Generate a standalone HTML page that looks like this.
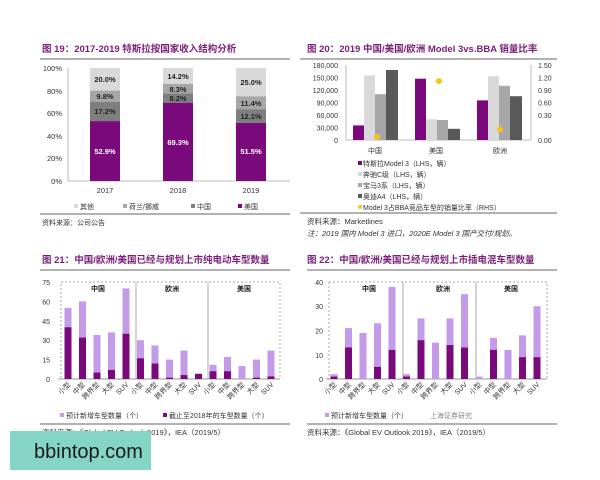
<!DOCTYPE html>
<html><head><meta charset="utf-8"><style>
html,body{margin:0;padding:0;background:#fff;}
svg{display:block;font-family:"Liberation Sans","Noto Sans CJK SC",sans-serif;}
</style></head><body>
<svg width="600" height="480" viewBox="0 0 600 480" xmlns="http://www.w3.org/2000/svg">
<rect width="600" height="480" fill="#fff"/>
<!-- Chart 19 -->
<text x="42" y="52" font-size="9.5" font-weight="bold" fill="#7b1e7a">图 19：2017-2019 特斯拉按国家收入结构分析</text>
<line x1="40" y1="59" x2="290" y2="59" stroke="#666" stroke-width="1"/>
<g font-size="7.5" fill="#333" text-anchor="end">
<text x="62" y="71">100%</text><text x="62" y="94">80%</text><text x="62" y="116">60%</text><text x="62" y="139">40%</text><text x="62" y="161">20%</text><text x="62" y="184">0%</text>
</g>
<line x1="68" y1="68" x2="68" y2="181" stroke="#bbb"/><line x1="68" y1="181" x2="290" y2="181" stroke="#bbb"/>
<!-- 2017 -->
<rect x="90" y="68" width="30" height="22.6" fill="#d9d9d9"/>
<rect x="90" y="90.6" width="30" height="11.1" fill="#a6a6a6"/>
<rect x="90" y="101.7" width="30" height="19.4" fill="#7f7f7f"/>
<rect x="90" y="121.1" width="30" height="59.9" fill="#7a0a7b"/>
<!-- 2018 -->
<rect x="163" y="68" width="30" height="16" fill="#d9d9d9"/>
<rect x="163" y="84" width="30" height="9.4" fill="#a6a6a6"/>
<rect x="163" y="93.4" width="30" height="9.3" fill="#7f7f7f"/>
<rect x="163" y="102.7" width="30" height="78.3" fill="#7a0a7b"/>
<!-- 2019 -->
<rect x="236" y="68" width="30" height="28.3" fill="#d9d9d9"/>
<rect x="236" y="96.3" width="30" height="12.9" fill="#a6a6a6"/>
<rect x="236" y="109.2" width="30" height="13.7" fill="#7f7f7f"/>
<rect x="236" y="122.9" width="30" height="58.1" fill="#7a0a7b"/>
<g font-size="7.5" font-weight="bold" text-anchor="middle" fill="#222">
<text x="105" y="82">20.0%</text><text x="105" y="99">9.8%</text><text x="105" y="114">17.2%</text>
<text x="178" y="79">14.2%</text><text x="178" y="92">8.3%</text><text x="178" y="101">8.2%</text>
<text x="251" y="85">25.0%</text><text x="251" y="106">11.4%</text><text x="251" y="119">12.1%</text>
</g>
<g font-size="7.5" font-weight="bold" text-anchor="middle" fill="#fff">
<text x="105" y="154">52.9%</text><text x="178" y="145">69.3%</text><text x="251" y="154">51.5%</text>
</g>
<g font-size="7.5" text-anchor="middle" fill="#333"><text x="105" y="193">2017</text><text x="178" y="193">2018</text><text x="251" y="193">2019</text></g>
<g font-size="7" fill="#333">
<rect x="74" y="204" width="4" height="4" fill="#d9d9d9"/><text x="80" y="209">其他</text>
<rect x="123" y="204" width="4" height="4" fill="#a6a6a6"/><text x="129" y="209">荷兰/挪威</text>
<rect x="191" y="204" width="4" height="4" fill="#7f7f7f"/><text x="197" y="209">中国</text>
<rect x="238" y="204" width="4" height="4" fill="#7a0a7b"/><text x="244" y="209">美国</text>
</g>
<line x1="40" y1="214" x2="290" y2="214" stroke="#666"/>
<text x="42" y="225" font-size="7" fill="#333">资料来源：公司公告</text>

<!-- Chart 20 -->
<text x="307" y="52" font-size="9.5" font-weight="bold" fill="#7b1e7a">图 20：2019 中国/美国/欧洲 Model 3vs.BBA 销量比率</text>
<line x1="300" y1="59" x2="557" y2="59" stroke="#666"/>
<g font-size="7" fill="#333" text-anchor="end">
<text x="338" y="68">180,000</text><text x="338" y="80.5">150,000</text><text x="338" y="93">120,000</text><text x="338" y="105.5">90,000</text><text x="338" y="118">60,000</text><text x="338" y="130.5">30,000</text><text x="338" y="143">0</text>
</g>
<g font-size="7" fill="#333">
<text x="538" y="68">1.50</text><text x="538" y="80.5">1.20</text><text x="538" y="93">0.90</text><text x="538" y="105.5">0.60</text><text x="538" y="118">0.30</text><text x="538" y="143">0.00</text>
</g>
<line x1="346" y1="65" x2="346" y2="140" stroke="#bbb"/><line x1="531" y1="65" x2="531" y2="140" stroke="#bbb"/><line x1="346" y1="140" x2="531" y2="140" stroke="#bbb"/>
<g>
<rect x="353" y="125.4" width="11" height="14.6" fill="#7a0a7b"/><rect x="364" y="75.4" width="11" height="64.6" fill="#d9d9d9"/><rect x="375" y="94.2" width="11" height="45.8" fill="#a6a6a6"/><rect x="386" y="70" width="12" height="70" fill="#595959"/>
<rect x="415" y="78.7" width="11" height="61.3" fill="#7a0a7b"/><rect x="426" y="119.2" width="11" height="20.8" fill="#d9d9d9"/><rect x="437" y="120" width="11" height="20" fill="#a6a6a6"/><rect x="448" y="128.8" width="12" height="11.2" fill="#595959"/>
<rect x="477" y="100.4" width="11" height="39.6" fill="#7a0a7b"/><rect x="488" y="76.2" width="11" height="63.8" fill="#d9d9d9"/><rect x="499" y="85.8" width="11" height="54.2" fill="#a6a6a6"/><rect x="510" y="96.2" width="12" height="43.8" fill="#595959"/>
</g>
<circle cx="377" cy="137" r="3" fill="#f5c518"/><circle cx="439" cy="81" r="3" fill="#f5c518"/><circle cx="500" cy="129.5" r="3" fill="#f5c518"/>
<g font-size="7" fill="#333" text-anchor="middle"><text x="375" y="153">中国</text><text x="436" y="153">美国</text><text x="500" y="153">欧洲</text></g>
<g font-size="7" fill="#333">
<rect x="358" y="161" width="4" height="4" fill="#7a0a7b"/><text x="363" y="166">特斯拉Model 3（LHS，辆）</text>
<rect x="358" y="172" width="4" height="4" fill="#d9d9d9"/><text x="363" y="177">奔驰C级（LHS，辆）</text>
<rect x="358" y="183" width="4" height="4" fill="#a6a6a6"/><text x="363" y="188">宝马3系（LHS，辆）</text>
<rect x="358" y="194" width="4" height="4" fill="#595959"/><text x="363" y="199">奥迪A4（LHS，辆）</text>
<circle cx="360" cy="207" r="2" fill="#f5c518"/><text x="363" y="210">Model 3占BBA竞品车型的销量比率（RHS）</text>
</g>
<line x1="300" y1="213" x2="557" y2="213" stroke="#666"/>
<text x="307" y="224" font-size="7.5" fill="#333">资料来源：Marketlines</text>
<text x="307" y="236" font-size="7.5" font-style="italic" fill="#333">注：2019 国内 Model 3 进口，2020E Model 3 国产交付/规划。</text>

<!-- Chart 21 -->
<text x="42" y="263" font-size="9.5" font-weight="bold" fill="#7b1e7a">图 21：中国/欧洲/美国已经与规划上市纯电动车型数量</text>
<line x1="40" y1="270" x2="290" y2="270" stroke="#666"/>
<g font-size="7" fill="#333" text-anchor="end">
<text x="50" y="285">75</text><text x="50" y="304.5">60</text><text x="50" y="324">45</text><text x="50" y="343">30</text><text x="50" y="362.5">15</text><text x="50" y="382">0</text>
</g>
<rect x="61" y="282" width="219" height="97" fill="none" stroke="#aaa" stroke-dasharray="2,2"/>
<line x1="136" y1="282" x2="136" y2="379" stroke="#aaa"/><line x1="208" y1="282" x2="208" y2="379" stroke="#aaa"/>
<line x1="58" y1="379" x2="280" y2="379" stroke="#999"/>
<g font-size="7" font-weight="bold" fill="#222" text-anchor="middle"><text x="98" y="291">中国</text><text x="172" y="291">欧洲</text><text x="244" y="291">美国</text></g>
<g id="c21"></g>
<g font-size="7" fill="#333">
<rect x="60" y="413" width="4" height="4" fill="#c39be8"/><text x="66" y="418">预计新增车型数量（个）</text>
<rect x="163" y="413" width="4" height="4" fill="#7a0a7b"/><text x="169" y="418">截止至2018年的车型数量（个）</text>
</g>
<line x1="40" y1="424" x2="290" y2="424" stroke="#666"/>
<text x="42" y="435" font-size="7.5" fill="#333">资料来源：《Global EV Outlook 2019》，IEA（2019/5）</text>

<!-- Chart 22 -->
<text x="307" y="263" font-size="9.5" font-weight="bold" fill="#7b1e7a">图 22：中国/欧洲/美国已经与规划上市插电混车型数量</text>
<line x1="307" y1="270" x2="557" y2="270" stroke="#666"/>
<g font-size="7" fill="#333" text-anchor="end">
<text x="323" y="285">40</text><text x="323" y="309">30</text><text x="323" y="333.5">20</text><text x="323" y="358">10</text><text x="323" y="382">0</text>
</g>
<rect x="329" y="282" width="218" height="97" fill="none" stroke="#aaa" stroke-dasharray="2,2"/>
<line x1="403" y1="282" x2="403" y2="379" stroke="#aaa"/><line x1="476" y1="282" x2="476" y2="379" stroke="#aaa"/>
<line x1="326" y1="379" x2="547" y2="379" stroke="#999"/>
<g font-size="7" font-weight="bold" fill="#222" text-anchor="middle"><text x="369" y="291">中国</text><text x="443" y="291">欧洲</text><text x="511" y="291">美国</text></g>
<g id="c22"></g>
<g font-size="7" fill="#333">
<rect x="325" y="413" width="4" height="4" fill="#c39be8"/><text x="331" y="418">预计新增车型数量（个）</text>
<text x="430" y="418" fill="#888">上海证券研究</text>
</g>
<line x1="307" y1="424" x2="557" y2="424" stroke="#666"/>
<text x="307" y="435" font-size="7.5" fill="#333">资料来源：《Global EV Outlook 2019》，IEA（2019/5）</text>

<!-- bars generated statically -->
<g id="bars"></g>

<!-- watermark -->
<rect x="10" y="431" width="141" height="39" fill="#84d5c5"/>
<text x="34" y="458" font-size="20" fill="#1a1a1a">bbintop.com</text>
</svg>
<script>
(function(){
var ns="http://www.w3.org/2000/svg";
var labels=["小型","中型","跨界型","大型","SUV"];
function draw(gid,x0,step,scale,base,data){
  var g=document.getElementById(gid);
  data.forEach(function(d,i){
    var cx=x0+step*i;
    var tot=document.createElementNS(ns,"rect");
    tot.setAttribute("x",cx-3.5);tot.setAttribute("width",7);
    tot.setAttribute("y",base-d[1]*scale);tot.setAttribute("height",d[1]*scale);tot.setAttribute("fill","#c39be8");g.appendChild(tot);
    if(d[0]>0){var dk=document.createElementNS(ns,"rect");
    dk.setAttribute("x",cx-3.5);dk.setAttribute("width",7);
    dk.setAttribute("y",base-d[0]*scale);dk.setAttribute("height",d[0]*scale);dk.setAttribute("fill","#7a0a7b");g.appendChild(dk);}
    var t=document.createElementNS(ns,"text");
    t.setAttribute("x",cx+3);t.setAttribute("y",base+6);t.setAttribute("font-size","7");t.setAttribute("fill","#333");
    t.setAttribute("text-anchor","end");t.setAttribute("transform","rotate(-45 "+(cx+3)+" "+(base+6)+")");
    t.textContent=labels[i%5];g.appendChild(t);
  });
}
draw("c21",68,14.5,97/75,379,[[40,55],[32,60],[5,34],[7,36],[35,70],[16,30],[12,26],[1,15],[3,22],[4,4],[6,11],[6,17],[0,10],[1,15],[2,22]]);
draw("c22",334,14.5,97/40,379,[[1,2],[13,21],[0,19],[5,23],[12,38],[1,2],[16,25],[0,15],[14,25],[13,35],[0,1],[12,17],[0,12],[9,18],[9,30]]);
})();
</script>
</body></html>
